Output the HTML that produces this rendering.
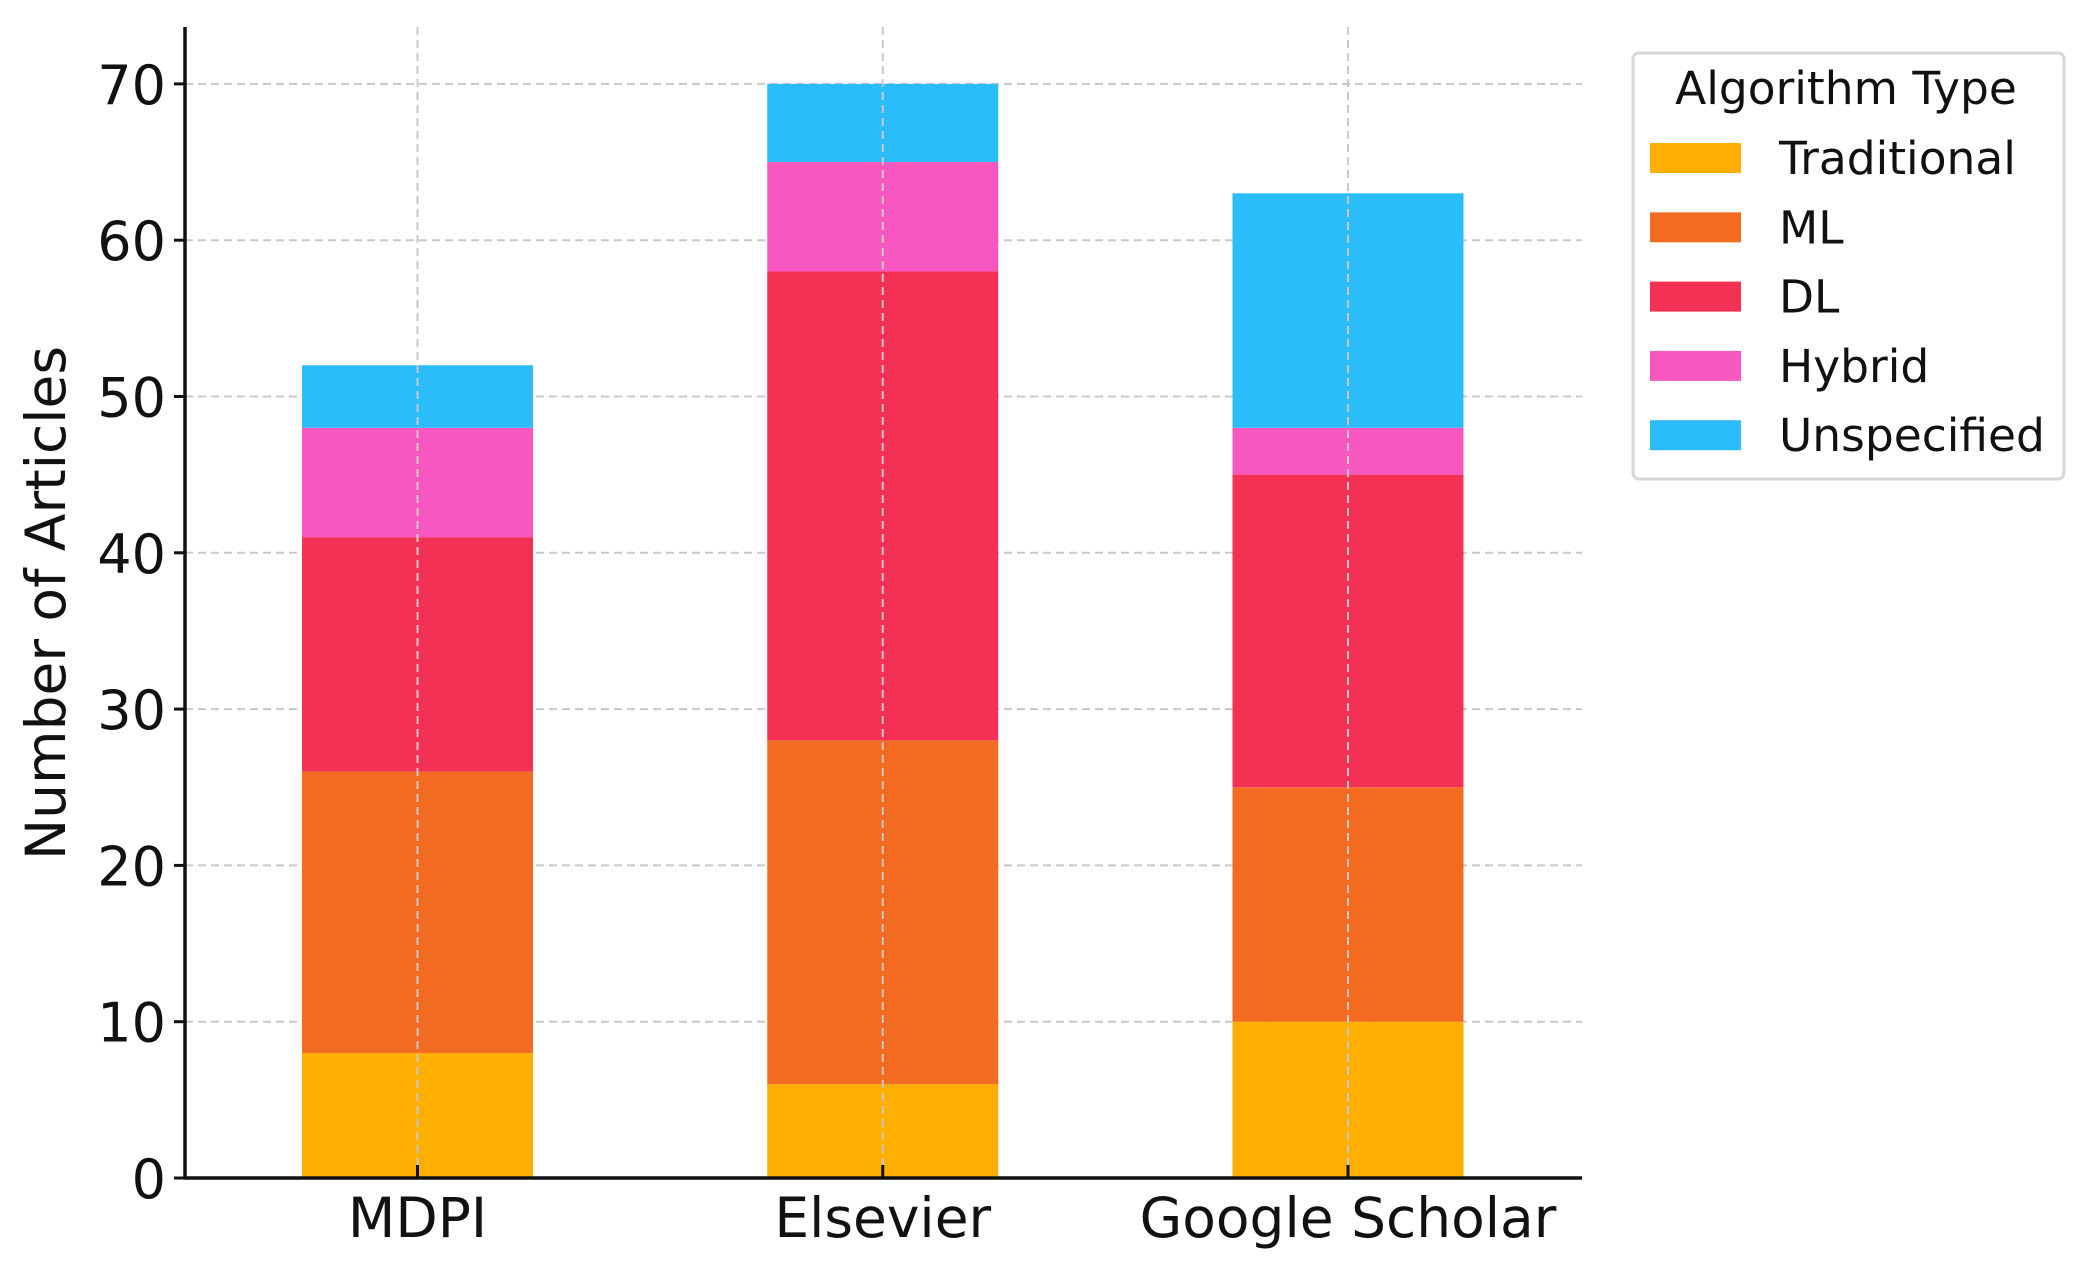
<!DOCTYPE html>
<html><head><meta charset="utf-8"><style>
html,body{margin:0;padding:0;background:#fff;}
svg{display:block;font-family:"DejaVu Sans","Liberation Sans",sans-serif;}
</style></head><body>
<svg id="chart" width="2085" height="1273" viewBox="0 0 2085 1273">
<g id="grid"></g>
<g id="bars"></g>
<g id="axes"></g>
<text x="50" y="603" transform="rotate(-90 50 603)" text-anchor="middle" dominant-baseline="middle" font-size="55" fill="#111">Number of Articles</text>
<g id="legend"></g>
</svg>
<script>
const categories = ["MDPI", "Elsevier", "Google Scholar"];
const seriesNames = ["Traditional", "ML", "DL", "Hybrid", "Unspecified"];
const traditional = [8, 6, 10];
const ml = [18, 22, 15];
const dl = [15, 30, 20];
const hybrid = [7, 7, 3];
const unspecified = [4, 5, 15];
const yTicks = [0, 10, 20, 30, 40, 50, 60, 70];
const colors = ["#FFAF00", "#F26B21", "#F43155", "#F757BE", "#2BBDFA"];
const series = [traditional, ml, dl, hybrid, unspecified];

const NS = "http://www.w3.org/2000/svg";
const L = 185, R = 1582, B = 1178, T = 27;
const yScale = v => B - v * 15.63;
const x0 = 417.5, step = 465.25;
const xScale = i => x0 + i * step;
const barW = 231;
function mk(tag, attrs, parent) {
  const e = document.createElementNS(NS, tag);
  for (const k in attrs) e.setAttribute(k, attrs[k]);
  parent.appendChild(e);
  return e;
}
const grid = document.getElementById('grid');
const bars = document.getElementById('bars');
const axes = document.getElementById('axes');
const legend = document.getElementById('legend');

yTicks.forEach(t => {
  const y = yScale(t);
  if (t > 0) {
    const g = mk('line', {x1: L, x2: R, y1: y, y2: y, stroke: '#c8c8c8', 'stroke-width': 2, 'stroke-dasharray': '8,5'}, grid);
    
    
  }
  const tk = mk('line', {x1: L - 11, x2: L, y1: y, y2: y, stroke: '#111', 'stroke-width': 3}, axes);
  
  
  const tx = mk('text', {x: L - 19, y: y + 20, 'text-anchor': 'end', 'font-size': 54, fill: '#111'}, axes);
  tx.textContent = t;
  
  
});

categories.forEach((c, i) => {
  const cx = xScale(i);
  let base = 0;
  series.forEach((s, k) => {
    const v = s[i];
    const r = mk('rect', {x: cx - barW / 2, y: yScale(base + v), width: barW, height: yScale(base) - yScale(base + v), fill: colors[k]}, bars);
    
    
    base += v;
  });
  const g = mk('line', {x1: cx, x2: cx, y1: T, y2: B, stroke: '#c8c8c8', 'stroke-width': 2, 'stroke-dasharray': '8,5'}, axes);
  
  
  const tk = mk('line', {x1: cx, x2: cx, y1: B, y2: B - 13, stroke: '#111', 'stroke-width': 3}, axes);
  
  
  const tx = mk('text', {x: cx, y: B + 59, 'text-anchor': 'middle', 'font-size': 55, fill: '#111'}, axes);
  tx.textContent = c;
  
  
});

const yAxis = mk('line', {x1: L, x2: L, y1: T, y2: B + 1.5, stroke: '#111', 'stroke-width': 3.5}, axes);


const xAxis = mk('line', {x1: L - 1.5, x2: R, y1: B, y2: B, stroke: '#111', 'stroke-width': 3.5}, axes);



const box = mk('rect', {x: 1633, y: 53, width: 431, height: 426, rx: 6, fill: '#fff', stroke: '#d6d6d6', 'stroke-width': 3}, legend);


const title = mk('text', {x: 1846, y: 104, 'text-anchor': 'middle', 'font-size': 45.5, fill: '#111'}, legend);
title.textContent = 'Algorithm Type';


seriesNames.forEach((n, k) => {
  const cy = 158 + k * 69.3;
  const sw = mk('rect', {x: 1650, y: cy - 15, width: 91, height: 30, fill: colors[k]}, legend);
  
  
  const t = mk('text', {x: 1779, y: cy + 16, 'font-size': 45.5, fill: '#111'}, legend);
  t.textContent = n;
  
  
});
</script>
</body></html>
